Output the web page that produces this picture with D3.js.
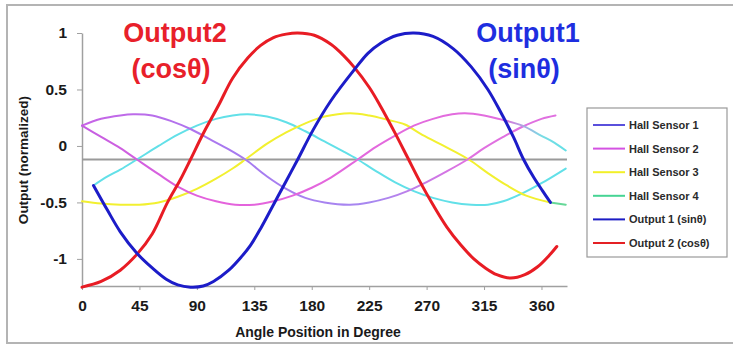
<!DOCTYPE html>
<html>
<head>
<meta charset="utf-8">
<script src="https://cdn.jsdelivr.net/npm/d3@7"></script>
<style>
  body { margin: 0; background: #fff; }
  svg { display: block; font-family: Arial, "Liberation Sans", sans-serif; }
</style>
</head>
<body>
<div id="chart"></div>
<script>
// values (angle in degrees, output normalized)
var hall1Angles = [0, 15, 30, 40, 55, 70, 85, 100, 115, 128, 145, 160, 175, 190, 210, 225, 240, 255, 270, 285, 302, 315, 330, 345, 360, 371];
var hall1Values = [0.18, 0.24, 0.27, 0.28, 0.27, 0.22, 0.15, 0.06, -0.03, -0.12, -0.27, -0.38, -0.46, -0.50, -0.52, -0.50, -0.46, -0.40, -0.32, -0.23, -0.12, -0.02, 0.08, 0.17, 0.24, 0.27];

var hall2Angles = [0, 15, 30, 43, 60, 75, 90, 105, 120, 135, 150, 165, 180, 195, 216, 230, 245, 260, 275, 290, 300, 315, 330, 345, 360, 370, 379];
var hall2Values = [0.18, 0.08, -0.02, -0.12, -0.25, -0.36, -0.44, -0.49, -0.52, -0.52, -0.49, -0.44, -0.37, -0.28, -0.12, -0.01, 0.09, 0.18, 0.24, 0.28, 0.29, 0.27, 0.23, 0.18, 0.09, 0.03, -0.04];

var hall3Angles = [0, 15, 30, 45, 60, 75, 90, 105, 118, 128, 145, 160, 175, 190, 210, 225, 240, 253, 265, 280, 303, 318, 333, 348, 367];
var hall3Values = [-0.49, -0.51, -0.52, -0.52, -0.50, -0.45, -0.38, -0.29, -0.20, -0.12, 0.02, 0.12, 0.20, 0.26, 0.29, 0.27, 0.23, 0.19, 0.11, 0.02, -0.12, -0.24, -0.35, -0.44, -0.50];

var hall4Angles = [9, 20, 30, 43, 60, 75, 90, 105, 118, 130, 145, 160, 175, 190, 205, 216, 230, 245, 260, 275, 290, 305, 318, 330, 345, 360, 379];
var hall4Values = [-0.35, -0.27, -0.21, -0.12, 0.00, 0.10, 0.18, 0.24, 0.27, 0.28, 0.26, 0.21, 0.13, 0.04, -0.05, -0.12, -0.22, -0.32, -0.40, -0.46, -0.50, -0.52, -0.52, -0.49, -0.42, -0.33, -0.20];

// green tail after the yellow curve
var hall4TailAngles = [367, 379];
var hall4TailValues = [-0.50, -0.52];

var out1Angles = [9, 20, 30, 43, 55, 66, 75, 85, 95, 103, 115, 125, 132, 140, 150, 160, 169, 181, 195, 213, 224, 234, 247, 260, 275, 291, 305, 318, 328, 338, 346, 354, 361, 367];
var out1Values = [-0.35, -0.57, -0.76, -0.95, -1.08, -1.18, -1.23, -1.25, -1.24, -1.20, -1.10, -0.98, -0.88, -0.73, -0.52, -0.31, -0.12, 0.14, 0.40, 0.67, 0.82, 0.91, 0.98, 1.00, 0.97, 0.86, 0.70, 0.50, 0.30, 0.08, -0.12, -0.28, -0.40, -0.50];

var out2Angles = [0, 15, 30, 43, 55, 67, 77, 85, 95, 107, 118, 130, 140, 150, 160, 169, 182, 195, 205, 213, 225, 234, 245, 255, 265, 275, 286, 297, 307, 316, 325, 336, 347, 357, 366, 372];
var out2Values = [-1.25, -1.20, -1.10, -0.96, -0.78, -0.50, -0.30, -0.12, 0.11, 0.36, 0.60, 0.78, 0.89, 0.96, 0.99, 1.00, 0.98, 0.90, 0.80, 0.70, 0.52, 0.35, 0.12, -0.10, -0.32, -0.52, -0.72, -0.88, -1.00, -1.08, -1.14, -1.17, -1.14, -1.07, -0.97, -0.89];

var refLevel = -0.12;
var xTicks = [0, 45, 90, 135, 180, 225, 270, 315, 360];
var yTicks = [-1, -0.5, 0, 0.5, 1];
var legendNames = ["Hall Sensor 1", "Hall Sensor 2", "Hall Sensor 3", "Hall Sensor 4", "Output 1 (sin\u03b8)", "Output 2 (cos\u03b8)"];
var legendColors = ["#5a50dc", "#d452e2", "#f2f028", "#46d494", "#1c1cc4", "#e42024"];

var width = 733, height = 345;

var svg = d3.select("#chart").append("svg")
  .attr("width", width)
  .attr("height", height);

// outer frame
svg.append("rect")
  .attr("x", 7).attr("y", 5)
  .attr("width", 740).attr("height", 338)
  .style("fill", "none")
  .style("stroke", "#b4b4b4")
  .style("stroke-width", 2);

var x = d3.scaleLinear().domain([0, 380]).range([82, 567]);
var y = d3.scaleLinear().domain([-1.24, 1]).range([286, 33]);

function pts(angles, values) {
  return angles.map(function(a, i) { return [a, values[i]]; });
}

var line = d3.line()
  .x(function(d) { return x(d[0]); })
  .y(function(d) { return y(d[1]); })
  .curve(d3.curveCatmullRom.alpha(0.5));

// gradients for the sensor curves (they shift colour along the sweep)
var defs = svg.append("defs");
function gradient(id, stops) {
  var g = defs.append("linearGradient")
    .attr("id", id)
    .attr("gradientUnits", "userSpaceOnUse")
    .attr("x1", x(0)).attr("x2", x(380))
    .attr("y1", 0).attr("y2", 0);
  g.selectAll("stop").data(stops).enter().append("stop")
    .attr("offset", function(d) { return d[0] / 380; })
    .attr("stop-color", function(d) { return d[1]; });
}
gradient("gHall1", [[0, "#c864e6"], [120, "#a67af0"], [230, "#a888f0"], [300, "#e070e0"], [380, "#e070e0"]]);
gradient("gHall2", [[0, "#c45ee2"], [100, "#e462dc"], [330, "#e26ede"], [360, "#7adce4"], [380, "#62e0e6"]]);

// axes
var yAxis = d3.axisLeft(y)
  .tickValues(yTicks)
  .tickSize(5)
  .tickSizeOuter(0)
  .tickPadding(10)
  .tickFormat(function(d) { return String(d); });

var xAxis = d3.axisBottom(x)
  .tickValues(xTicks)
  .tickSize(4)
  .tickSizeOuter(0)
  .tickPadding(10)
  .tickFormat(function(d) { return String(d); });

var gy = svg.append("g").attr("transform", "translate(82,0)").call(yAxis);
var gx = svg.append("g").attr("transform", "translate(0,286)").call(xAxis);

[gx, gy].forEach(function(g) {
  g.select(".domain").style("stroke", "#a0a0a0").style("stroke-width", 1.5);
  g.selectAll(".tick line").style("stroke", "#a0a0a0");
  g.selectAll(".tick text")
    .style("font-size", "15.5px")
    .style("font-weight", "bold")
    .style("fill", "#1a1a1a");
});

// reference line
svg.append("line")
  .attr("x1", x(0)).attr("x2", x(380))
  .attr("y1", y(refLevel)).attr("y2", y(refLevel))
  .style("stroke", "#9a9a9a")
  .style("stroke-width", 2);

var series = [
  { data: pts(hall4Angles, hall4Values), color: "#62e0e8", w: 2 },
  { data: pts(hall3Angles, hall3Values), color: "#f2f030", w: 2 },
  { data: pts(hall4TailAngles, hall4TailValues), color: "#66d898", w: 2 },
  { data: pts(hall1Angles, hall1Values), color: "url(#gHall1)", w: 2 },
  { data: pts(hall2Angles, hall2Values), color: "url(#gHall2)", w: 2 },
  { data: pts(out2Angles, out2Values), color: "#e81c24", w: 3 },
  { data: pts(out1Angles, out1Values), color: "#1c1cc8", w: 3 }
];

svg.selectAll("path.curve")
  .data(series)
  .enter()
  .append("path")
  .attr("class", "curve")
  .attr("d", function(d) { return line(d.data); })
  .style("fill", "none")
  .style("stroke", function(d) { return d.color; })
  .style("stroke-width", function(d) { return d.w; })
  .style("stroke-linecap", "round");

// big annotations
var notes = [
  { t: "Output2", x: 175, y: 42, c: "#e8202a" },
  { t: "(cos\u03b8)", x: 171, y: 78, c: "#e8202a" },
  { t: "Output1", x: 528, y: 42, c: "#1e2ee0" },
  { t: "(sin\u03b8)", x: 524, y: 78, c: "#1e2ee0" }
];
svg.selectAll("text.note")
  .data(notes)
  .enter()
  .append("text")
  .attr("class", "note")
  .attr("x", function(d) { return d.x; })
  .attr("y", function(d) { return d.y; })
  .attr("text-anchor", "middle")
  .style("font-size", "27px")
  .style("font-weight", "bold")
  .style("fill", function(d) { return d.c; })
  .text(function(d) { return d.t; });

// axis titles
svg.append("text")
  .attr("x", 318).attr("y", 337)
  .attr("text-anchor", "middle")
  .style("font-size", "14px")
  .style("font-weight", "bold")
  .style("fill", "#1a1a1a")
  .text("Angle Position in Degree");

svg.append("text")
  .attr("transform", "translate(28,160) rotate(-90)")
  .attr("text-anchor", "middle")
  .style("font-size", "13.5px")
  .style("font-weight", "bold")
  .style("fill", "#1a1a1a")
  .text("Output (normalized)");

// legend
var legend = svg.append("g");
legend.append("rect")
  .attr("x", 587).attr("y", 108)
  .attr("width", 140).attr("height", 149)
  .style("fill", "#fff")
  .style("stroke", "#999")
  .style("stroke-width", 1.2);

var rows = legend.selectAll("g.row")
  .data(legendNames)
  .enter()
  .append("g")
  .attr("class", "row")
  .attr("transform", function(d, i) { return "translate(0," + (125 + i * 23.6) + ")"; });

rows.append("line")
  .attr("x1", 593).attr("x2", 625)
  .attr("y1", 0).attr("y2", 0)
  .style("stroke", function(d, i) { return legendColors[i]; })
  .style("stroke-width", 2);

rows.append("text")
  .attr("x", 629).attr("y", 4)
  .style("font-size", "11px")
  .style("font-weight", "bold")
  .style("fill", "#2a2a2a")
  .text(function(d) { return d; });
</script>
</body>
</html>
